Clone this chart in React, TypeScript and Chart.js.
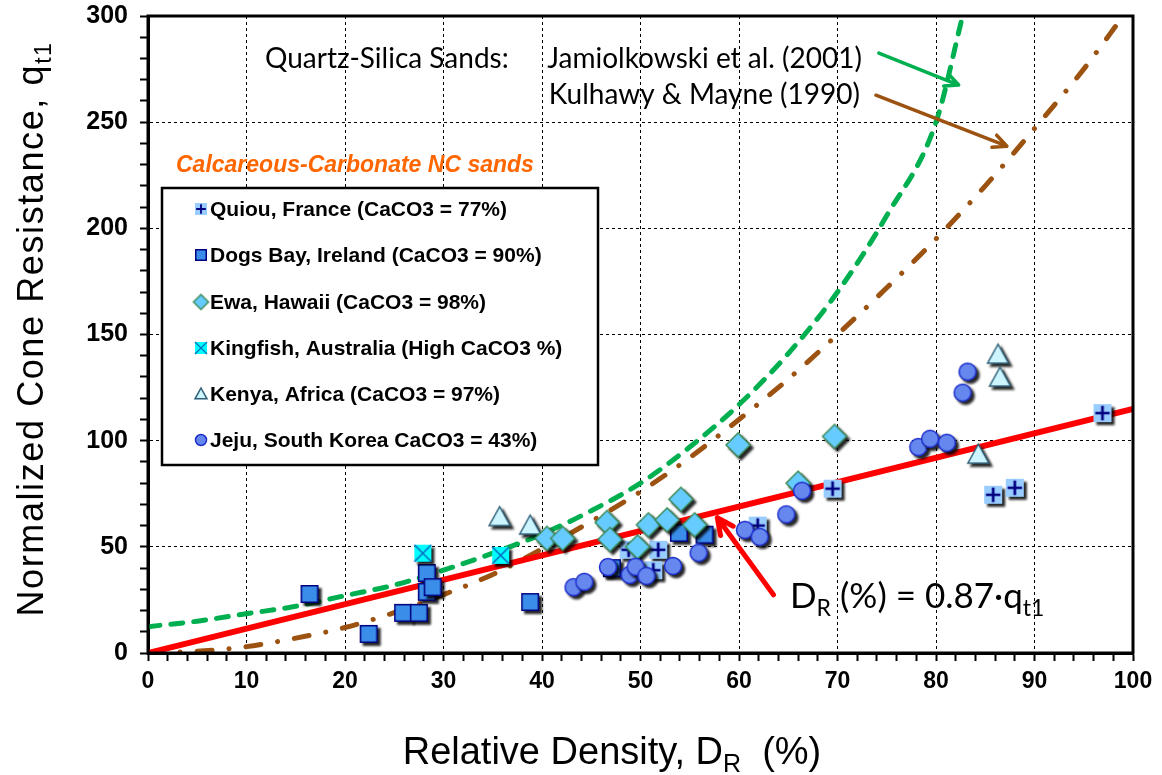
import React, { useEffect, useRef } from "react";
import { Chart, registerables } from "chart.js";
Chart.register(...registerables);

const ARIAL = "'Liberation Sans', Arial, sans-serif";
const CAL = "Lato, 'Open Sans', sans-serif";

// ---- data (DR %, qt1) ----
const quiou: number[][] = [[96.9, 113], [85.8, 74.5], [88.0, 77.8], [69.5, 77.4], [61.9, 60], [48.8, 48.6], [51.8, 48.6], [51.3, 39]];
const dogsBay: number[][] = [[16.4, 27.8], [22.4, 9.0], [25.9, 18.9], [27.5, 18.9], [28.3, 37.7], [28.3, 28.8], [28.9, 31.0], [38.8, 24.0], [53.9, 56.6], [56.5, 55.7], [47.1, 40]];
const ewa: number[][] = [[40.5, 54], [42.1, 54], [46.6, 61.5], [46.9, 53.5], [50.8, 60.4], [49.7, 50], [52.7, 62.7], [54.1, 72.4], [55.5, 60.4], [59.9, 98], [69.7, 102], [66, 80]];
const kingfish: number[][] = [[27.9, 47], [35.8, 46]];
const kenya: number[][] = [[35.7, 64], [38.8, 60], [86.3, 140.5], [86.5, 129.7], [84.3, 93.4]];
const jeju: number[][] = [[43.2, 31], [44.3, 33.5], [46.7, 40.5], [48.9, 36.8], [49.5, 40.6], [50.6, 36.3], [53.3, 41], [55.9, 47.2], [60.6, 58], [62.1, 54.7], [64.8, 65.3], [66.4, 76.4], [78.2, 97], [79.4, 100.9], [81.1, 99], [82.7, 122.6], [83.2, 132.5]];

// trend curves
const redLine: number[][] = [[0, 0], [100, 115]];
const jamiolkowski: number[][] = [[0, 12.4], [5, 15], [10, 18.5], [15, 22], [20, 27], [25, 32], [30, 39], [35, 47], [40, 56], [45, 67], [50, 80], [55, 97], [60, 117], [65, 141], [70, 170], [75, 206], [80, 250], [82.7, 300]];
const kulhawy: number[][] = [[0, 0], [5, 0.8], [10, 3], [15, 7], [20, 12], [25, 19], [30, 27.5], [35, 37], [40, 49], [45, 62], [50, 76], [55, 92], [60, 110], [65, 129], [70, 150], [75, 172], [80, 195], [85, 220], [90, 247], [95, 275], [99, 300]];

// arrows: [fromX, fromY, toX, toY] in data units
const greenArrow = [74.2, 282.5, 82.3, 267.5];
const brownArrow = [73.9, 262.7, 87.2, 238.7];
const redArrow = [63.5, 27.4, 57.8, 63.7];

const legendLabels = [
  "Quiou, France (CaCO3 = 77%)",
  "Dogs Bay, Ireland (CaCO3 = 90%)",
  "Ewa, Hawaii (CaCO3 = 98%)",
  "Kingfish, Australia (High CaCO3 %)",
  "Kenya, Africa (CaCO3 = 97%)",
  "Jeju, South Korea CaCO3 = 43%)",
];
const legendKinds = ["quiou", "dogs", "ewa", "king", "kenya", "jeju"];

const xTicksMajor = 10;
const yTicksMajor = 50;

function marker(kind: string, s: number): HTMLCanvasElement {
  const pad = 2;
  const c = document.createElement("canvas");
  const w = Math.ceil(s + pad * 2);
  c.width = w;
  c.height = w;
  const g = c.getContext("2d")!;
  const m = w / 2;
  const h = s / 2;
  switch (kind) {
    case "quiou": {
      g.fillStyle = "#99CCFF";
      g.fillRect(m - h, m - h, s, s);
      g.strokeStyle = "#000080";
      g.lineWidth = Math.max(1.5, s * 0.15);
      g.beginPath();
      g.moveTo(m, m - h * 0.8);
      g.lineTo(m, m + h * 0.8);
      g.moveTo(m - h * 0.8, m);
      g.lineTo(m + h * 0.8, m);
      g.stroke();
      break;
    }
    case "dogs": {
      g.fillStyle = "#3A8EEA";
      g.fillRect(m - h, m - h, s, s);
      g.strokeStyle = "#000080";
      g.lineWidth = 1.5;
      g.strokeRect(m - h + 0.75, m - h + 0.75, s - 1.5, s - 1.5);
      break;
    }
    case "ewa": {
      g.beginPath();
      g.moveTo(m, m - h);
      g.lineTo(m + h, m);
      g.lineTo(m, m + h);
      g.lineTo(m - h, m);
      g.closePath();
      g.fillStyle = "#66CCFF";
      g.fill();
      g.strokeStyle = "#3C8C5A";
      g.lineWidth = 1.5;
      g.stroke();
      break;
    }
    case "king": {
      g.fillStyle = "#00FFFF";
      g.fillRect(m - h, m - h, s, s);
      g.strokeStyle = "#0070C0";
      g.lineWidth = Math.max(1.2, s * 0.1);
      g.beginPath();
      g.moveTo(m - h, m - h);
      g.lineTo(m + h, m + h);
      g.moveTo(m + h, m - h);
      g.lineTo(m - h, m + h);
      g.stroke();
      break;
    }
    case "kenya": {
      g.beginPath();
      g.moveTo(m, m - h);
      g.lineTo(m + h, m + h * 0.8);
      g.lineTo(m - h, m + h * 0.8);
      g.closePath();
      g.fillStyle = "#CCF5FF";
      g.fill();
      g.strokeStyle = "#2F5F78";
      g.lineWidth = 1.5;
      g.stroke();
      break;
    }
    case "jeju": {
      g.beginPath();
      g.arc(m, m, h - 0.5, 0, Math.PI * 2);
      g.fillStyle = "#6688EE";
      g.fill();
      g.strokeStyle = "#1F2FCC";
      g.lineWidth = 1.5;
      g.stroke();
      break;
    }
  }
  return c;
}

type Seg = { t: string; sub?: boolean };

function setSpacing(ctx: any, px: number) {
  if ("letterSpacing" in ctx) ctx.letterSpacing = `${px}px`;
}

function richWidth(ctx: CanvasRenderingContext2D, segs: Seg[], size: number, family: string, style: string) {
  let w = 0;
  for (const s of segs) {
    ctx.font = `${style} ${s.sub ? Math.round(size * 0.65) : size}px ${family}`;
    w += ctx.measureText(s.t).width;
  }
  return w;
}

function drawRich(ctx: CanvasRenderingContext2D, segs: Seg[], x: number, y: number, size: number, family: string, style: string, align: "left" | "center" | "right", color: string) {
  const w = richWidth(ctx, segs, size, family, style);
  let cx = align === "left" ? x : align === "center" ? x - w / 2 : x - w;
  ctx.fillStyle = color;
  ctx.textAlign = "left";
  ctx.textBaseline = "alphabetic";
  for (const s of segs) {
    const fs = s.sub ? Math.round(size * 0.65) : size;
    ctx.font = `${style} ${fs}px ${family}`;
    ctx.fillText(s.t, cx, s.sub ? y + size * 0.22 : y);
    cx += ctx.measureText(s.t).width;
  }
}

function arrow(ctx: CanvasRenderingContext2D, x0: number, y0: number, x1: number, y1: number, color: string, width: number, head: number) {
  ctx.save();
  ctx.strokeStyle = color;
  ctx.lineWidth = width;
  ctx.lineCap = "round";
  ctx.lineJoin = "round";
  ctx.beginPath();
  ctx.moveTo(x0, y0);
  ctx.lineTo(x1, y1);
  const a = Math.atan2(y1 - y0, x1 - x0);
  ctx.moveTo(x1 - head * Math.cos(a - 0.45), y1 - head * Math.sin(a - 0.45));
  ctx.lineTo(x1, y1);
  ctx.lineTo(x1 - head * Math.cos(a + 0.45), y1 - head * Math.sin(a + 0.45));
  ctx.stroke();
  ctx.restore();
}

const NPOINT = 6;

const shadowPlugin = {
  id: "shadowPts",
  beforeDatasetDraw(chart: any, args: any) {
    if (args.index < NPOINT) {
      const c = chart.ctx;
      c.save();
      c.shadowColor = "rgba(0,0,0,0.85)";
      c.shadowOffsetX = 3;
      c.shadowOffsetY = 3;
      c.shadowBlur = 2;
    }
  },
  afterDatasetDraw(chart: any, args: any) {
    if (args.index < NPOINT) chart.ctx.restore();
  },
};

const decorPlugin = {
  id: "decor",
  afterDraw(chart: any) {
    const ctx: CanvasRenderingContext2D = chart.ctx;
    const { left, right, top, bottom } = chart.chartArea;
    const xs = chart.scales.x;
    const ys = chart.scales.y;
    const px = (v: number) => xs.getPixelForValue(v);
    const py = (v: number) => ys.getPixelForValue(v);
    ctx.save();
    // frame
    ctx.strokeStyle = "#000";
    ctx.lineWidth = 3;
    ctx.strokeRect(left, top, right - left, bottom - top);

    // arrows
    arrow(ctx, px(greenArrow[0]), py(greenArrow[1]), px(greenArrow[2]), py(greenArrow[3]), "#00B050", 3.5, 15);
    arrow(ctx, px(brownArrow[0]), py(brownArrow[1]), px(brownArrow[2]), py(brownArrow[3]), "#9C5210", 3.5, 15);
    arrow(ctx, px(redArrow[0]), py(redArrow[1]), px(redArrow[2]), py(redArrow[3]), "#FF0000", 5, 18);

    // annotation texts
    drawRich(ctx, [{ t: "Quartz-Silica Sands:" }], 265, 68, 28, CAL, "normal", "left", "#000");
    drawRich(ctx, [{ t: "Jamiolkowski et al. (2001)" }], 862, 68, 28, CAL, "normal", "right", "#000");
    drawRich(ctx, [{ t: "Kulhawy & Mayne (1990)" }], 860, 104, 28, CAL, "normal", "right", "#000");
    drawRich(ctx, [{ t: "D" }, { t: "R", sub: true }, { t: " (%) = 0.87·q" }, { t: "t1", sub: true }], 790, 608, 35, CAL, "normal", "left", "#000");

    // orange title
    drawRich(ctx, [{ t: "Calcareous-Carbonate NC sands" }], 176, 172, 23, ARIAL, "italic bold", "left", "#FF6600");

    // legend box
    ctx.fillStyle = "#fff";
    ctx.fillRect(162, 188, 436, 277);
    ctx.strokeStyle = "#000";
    ctx.lineWidth = 2.5;
    ctx.strokeRect(162, 188, 436, 277);
    const rowY = [209, 255, 302, 348, 394, 440];
    legendLabels.forEach((lab, i) => {
      const img = legendMarkers[i];
      ctx.drawImage(img, 201 - img.width / 2, rowY[i] - img.height / 2);
      ctx.font = `bold 21px ${ARIAL}`;
      ctx.fillStyle = "#000";
      ctx.textAlign = "left";
      ctx.textBaseline = "middle";
      ctx.fillText(lab, 210, rowY[i] + 1);
    });

    // axis titles
    drawRich(ctx, [{ t: "Relative Density, D" }, { t: "R", sub: true }, { t: "  (%)" }], 612, 764, 38, ARIAL, "normal", "center", "#000");
    ctx.save();
    ctx.translate(43, 329);
    ctx.rotate(-Math.PI / 2);
    setSpacing(ctx, 1.6);
    drawRich(ctx, [{ t: "Normalized Cone Resistance, q" }, { t: "t1", sub: true }], 0, 0, 36, ARIAL, "normal", "center", "#000");
    setSpacing(ctx, 0);
    ctx.restore();
    ctx.restore();
  },
};

const legendMarkers: HTMLCanvasElement[] = legendKinds.map((k) => marker(k, k === "ewa" ? 15 : 12));

function pts(a: number[][]) {
  return a.map(([x, y]) => ({ x, y }));
}

export default function App() {
  const ref = useRef<HTMLCanvasElement>(null);
  useEffect(() => {
    const m = {
      quiou: marker("quiou", 18),
      dogs: marker("dogs", 18),
      ewa: marker("ewa", 24),
      king: marker("king", 17),
      kenya: marker("kenya", 21),
      jeju: marker("jeju", 18),
    };
    const pointDs = (data: number[][], img: HTMLCanvasElement, label: string) => ({
      type: "scatter" as const,
      label,
      data: pts(data),
      pointStyle: img,
      pointRadius: 9,
      showLine: false,
    });
    const lineDs = (data: number[][], color: string, width: number, dash: number[], smooth: boolean, label: string) => ({
      type: "scatter" as const,
      label,
      data: pts(data),
      showLine: true,
      borderColor: color,
      backgroundColor: color,
      borderWidth: width,
      borderDash: dash,
      borderCapStyle: "round" as const,
      pointRadius: 0,
      cubicInterpolationMode: smooth ? ("monotone" as const) : ("default" as const),
      tension: 0,
    });
    const chart = new Chart(ref.current!, {
      type: "scatter",
      data: {
        datasets: [
          pointDs(jeju, m.jeju, "Jeju"),
          pointDs(ewa, m.ewa, "Ewa"),
          pointDs(kenya, m.kenya, "Kenya"),
          pointDs(kingfish, m.king, "Kingfish"),
          pointDs(dogsBay, m.dogs, "Dogs Bay"),
          pointDs(quiou, m.quiou, "Quiou"),
          lineDs(redLine, "#FF0000", 6, [], false, "0.87"),
          lineDs(jamiolkowski, "#00B050", 5, [12, 11], true, "Jamiolkowski"),
          lineDs(kulhawy, "#9C5210", 5, [15, 17, 0.1, 17], true, "Kulhawy"),
        ],
      } as any,
      options: {
        animation: false,
        responsive: false,
        events: [],
        layout: { padding: { top: 16, right: 29, left: 0, bottom: 0 } },
        plugins: { legend: { display: false }, tooltip: { enabled: false } },
        scales: {
          x: {
            type: "linear",
            min: 0,
            max: 100,
            afterFit: (s: any) => {
              s.height = 122;
              s.paddingLeft = 0;
              s.paddingRight = 0;
            },
            ticks: {
              stepSize: 2,
              autoSkip: false,
              maxRotation: 0,
              padding: 7,
              color: "#000",
              font: { family: ARIAL, size: 23, weight: "bold" },
              callback: (v: any) => (Number(v) % xTicksMajor === 0 ? String(v) : ""),
            },
            grid: {
              color: (c: any) => {
                const v = c.tick ? c.tick.value : 0;
                return v % xTicksMajor === 0 && v > 0 && v < 100 ? "#000" : "rgba(0,0,0,0)";
              },
              lineWidth: 1,
              tickColor: "#000",
              tickLength: 8,
              tickWidth: 2,
            },
            border: { display: true, color: "#000", width: 3, dash: [3, 3] },
          },
          y: {
            type: "linear",
            min: 0,
            max: 300,
            afterFit: (s: any) => {
              s.width = 148;
              s.paddingTop = 0;
              s.paddingBottom = 0;
            },
            ticks: {
              stepSize: 10,
              autoSkip: false,
              padding: 12,
              color: "#000",
              font: { family: ARIAL, size: 25, weight: "bold" },
              callback: (v: any) => (Number(v) % yTicksMajor === 0 ? String(v) : ""),
            },
            grid: {
              color: (c: any) => {
                const v = c.tick ? c.tick.value : 0;
                return v % yTicksMajor === 0 && v > 0 && v < 300 ? "#000" : "rgba(0,0,0,0)";
              },
              lineWidth: 1,
              tickColor: "#000",
              tickLength: 8,
              tickWidth: 2,
            },
            border: { display: true, color: "#000", width: 3, dash: [3, 3] },
          },
        },
      } as any,
      plugins: [shadowPlugin, decorPlugin],
    });
    return () => chart.destroy();
  }, []);
  return (
    <div style={{ position: "fixed", left: 0, top: 0, width: 1162, height: 775, background: "#fff" }}>
      <canvas ref={ref} width={1162} height={775} style={{ display: "block" }} />
    </div>
  );
}
